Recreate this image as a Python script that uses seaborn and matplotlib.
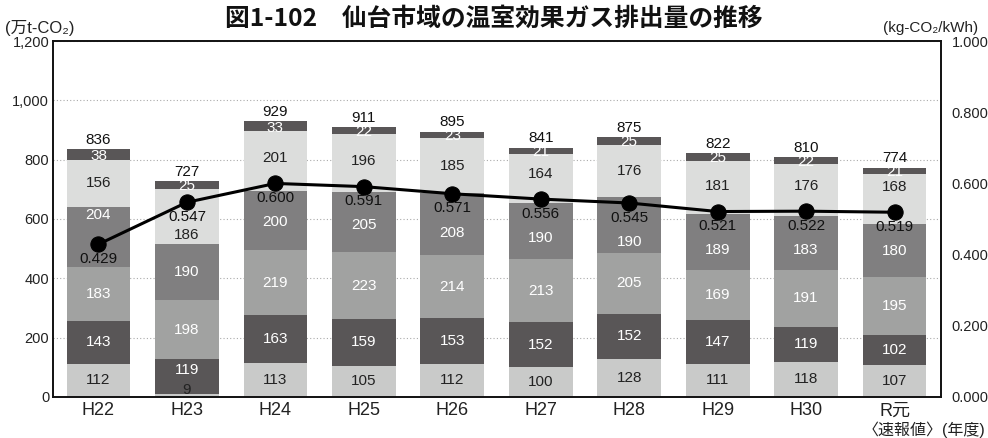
import numpy as np
import pandas as pd
import seaborn as sns
import matplotlib.pyplot as plt

sns.set_theme(style='white')
plt.rcParams['font.family'] = ['Liberation Sans', 'Noto Sans CJK JP', 'DejaVu Sans']

years = ['H22', 'H23', 'H24', 'H25', 'H26', 'H27', 'H28', 'H29', 'H30', 'R元']
# stacked segments, bottom to top (万t-CO2)
seg1 = [112, 9, 113, 105, 112, 100, 128, 111, 118, 107]
seg2 = [143, 119, 163, 159, 153, 152, 152, 147, 119, 102]
seg3 = [183, 198, 219, 223, 214, 213, 205, 169, 191, 195]
seg4 = [204, 190, 200, 205, 208, 190, 190, 189, 183, 180]
seg5 = [156, 186, 201, 196, 185, 164, 176, 181, 176, 168]
seg6 = [38, 25, 33, 22, 23, 21, 25, 25, 22, 21]
totals = [836, 727, 929, 911, 895, 841, 875, 822, 810, 774]
# emission factor (kg-CO2/kWh)
factor = [0.429, 0.547, 0.600, 0.591, 0.571, 0.556, 0.545, 0.521, 0.522, 0.519]

segs = [seg1, seg2, seg3, seg4, seg5, seg6]
colors = ['#c9cac9', '#595657', '#a1a2a1', '#807f80', '#dcdddc', '#595657']
txt_colors = ['#222222', 'white', 'white', 'white', '#222222', 'white']

fig, ax1 = plt.subplots(figsize=(9.88, 4.38), dpi=100)
fig.subplots_adjust(left=0.054, right=0.952, top=0.906, bottom=0.094)

ax1.set_axisbelow(True)
ax1.yaxis.grid(True, color='#aaaaaa', linestyle=(0, (1, 2)), linewidth=0.8)
ax1.xaxis.grid(False)

bottom = np.zeros(len(years))
for i, seg in enumerate(segs):
    sns.barplot(x=years, y=seg, bottom=bottom, color=colors[i], width=0.72,
                saturation=1, ax=ax1, edgecolor='none', linewidth=0)
    for j, v in enumerate(seg):
        yc = bottom[j] + v / 2
        rate_lab = factor[j] * 1200 - 50  # where the rate label sits
        if years[j] == 'H23' and i == 0:
            yc = 24
        elif years[j] == 'H23' and i == 1:
            yc = yc + 22
        elif i == 3:
            yc = yc + 73 if j == 0 else min(yc, rate_lab - 81)
        elif i == 4:
            yc = rate_lab - 61 if j == 1 else max(yc, rate_lab + 135)
        elif i == 5:
            yc = yc - 4
        ax1.text(j, yc, str(v), ha='center', va='center', fontsize=11,
                 color=txt_colors[i])
    bottom = bottom + np.array(seg)

for j, t in enumerate(totals):
    ax1.text(j, bottom[j] + 8, str(t), ha='center', va='bottom', fontsize=11,
             color='#111111')

ax1.set_ylim(0, 1200)
ax1.set_xlim(-0.51, 9.52)
ax1.set_yticks(np.arange(0, 1201, 200))
ax1.set_yticklabels(['0', '200', '400', '600', '800', '1,000', '1,200'])
ax1.tick_params(axis='y', labelsize=10.5, length=0, pad=3, colors='#222222')
ax1.tick_params(axis='x', labelsize=13, length=0, pad=4, colors='#222222')
ax1.set_xlabel('')
ax1.set_ylabel('')

ax2 = ax1.twinx()
sns.lineplot(x=np.arange(len(years)), y=factor, ax=ax2, color='black',
             linewidth=2.2, marker='o', markersize=11, markeredgecolor='black')
for j, f in enumerate(factor):
    ax2.text(j, f - 0.041, '%.3f' % f, ha='center', va='center', fontsize=11,
             color='#111111')
ax2.set_ylim(0, 1.0)
ax2.set_yticks(np.arange(0, 1.01, 0.2))
ax2.set_yticklabels(['0.000', '0.200', '0.400', '0.600', '0.800', '1.000'])
ax2.tick_params(axis='y', labelsize=10.5, length=0, pad=8, colors='#222222')
ax2.grid(False)

for ax in (ax1, ax2):
    for s in ax.spines.values():
        s.set_color('#111111')
        s.set_linewidth(1.2)

fig.text(0.5, 0.958, '図1-102　仙台市域の温室効果ガス排出量の推移', ha='center',
         va='center', fontsize=17.8, fontweight='bold', color='#111111',
         family=['Noto Sans CJK JP', 'DejaVu Sans'])
fig.text(0.005, 0.936, '(万t-CO₂)', ha='left', va='center', fontsize=12,
         color='#222222')
fig.text(0.99, 0.936, '(kg-CO₂/kWh)', ha='right', va='center', fontsize=11,
         color='#222222')
fig.text(0.997, 0.018, '〈速報値〉(年度)', ha='right', va='center', fontsize=11.5,
         color='#222222')

plt.savefig('out.png', dpi=100)
